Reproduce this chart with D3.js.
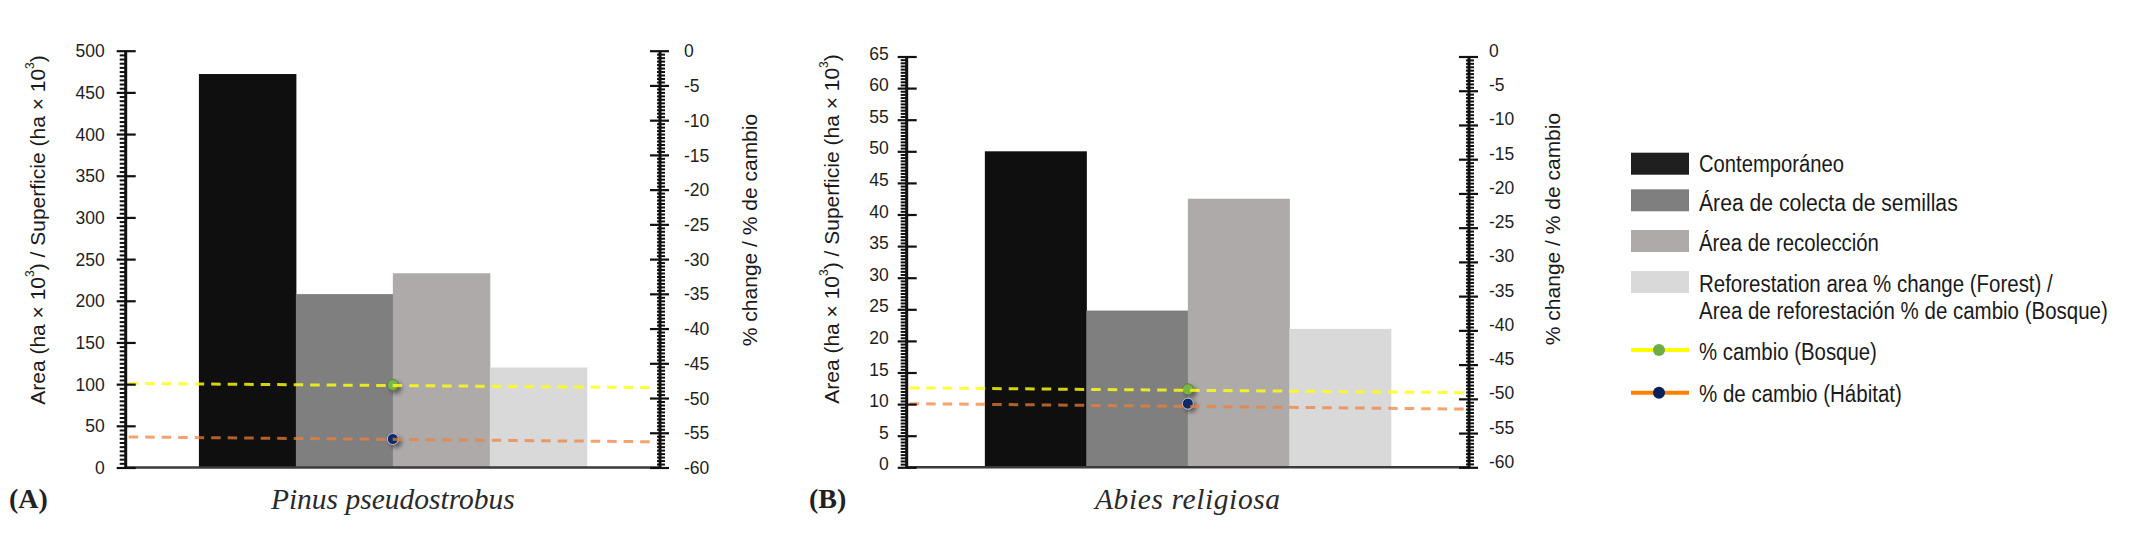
<!DOCTYPE html>
<html>
<head>
<meta charset="utf-8">
<script src="https://cdn.jsdelivr.net/npm/d3@7"></script>
<style>
  body { margin: 0; background: #fff; }
  svg { display: block; }
</style>
</head>
<body>
<div id="chart"></div>
<script>
// categories (bars) and legend labels
var categories = ["Contemporáneo", "Área de colecta de semillas", "Área de recolección", "Reforestación"]
var legendLabels = ["Contemporáneo", "Área de colecta de semillas", "Área de recolección",
  ["Reforestation area % change (Forest) /", "Area de reforestación % de cambio (Bosque)"],
  "% cambio (Bosque)", "% de cambio (Hábitat)"]

var speciesNames = ["Pinus pseudostrobus", "Abies religiosa"]
var panelLetters = ["(A)", "(B)"]

// area (ha x 10^3) per category
var pinusArea = [472, 208, 233, 120]
var abiesArea = [50, 24.8, 42.5, 21.9]

// % change markers (right axis)
var bosqueChange = [-48.1, -48.6]
var habitatChange = [-55.9, -50.7]
// dashed reference lines: value at left edge, value at right edge
var bosqueLine = [[-47.9, -48.5], [-48.4, -49.1]]
var habitatLine = [[-55.6, -56.3], [-50.7, -51.5]]

// tick labels
var areaTicksA = [0, 50, 100, 150, 200, 250, 300, 350, 400, 450, 500]
var areaTicksB = [0, 5, 10, 15, 20, 25, 30, 35, 40, 45, 50, 55, 60, 65]
var pctTicks = [0, -5, -10, -15, -20, -25, -30, -35, -40, -45, -50, -55, -60]

var barColors = ["#0f0f0f", "#7f7f7f", "#aeaaa9", "#d9d9d9"]

var width = 2144, height = 545
var svg = d3.select("#chart").append("svg")
  .attr("width", width)
  .attr("height", height)

var defs = svg.append("defs")
defs.append("filter").attr("id", "dotShadow")
  .attr("x", "-50%").attr("y", "-50%").attr("width", "250%").attr("height", "250%")
  .append("feDropShadow")
  .attr("dx", 3).attr("dy", 3).attr("stdDeviation", 2)
  .attr("flood-color", "#000").attr("flood-opacity", 0.45)

function minorTicks(major) {
  // ten subdivisions between major ticks
  var out = []
  for (var i = 0; i < major.length - 1; i++) {
    var a = major[i], b = major[i + 1]
    for (var k = 1; k < 10; k++) out.push(a + (b - a) * k / 10)
  }
  return out
}

var plain = d => String(d)   // keep the ascii hyphen for negatives

function drawPanel(p) {
  var g = svg.append("g")

  var yArea = d3.scaleLinear().domain([0, d3.max(p.areaTicks)]).range([p.bottom, p.top])
  var yPct = d3.scaleLinear().domain([-60, 0]).range([p.bottom, p.top])
  var x = d3.scaleBand().domain(categories).range([p.left, p.right])
    .paddingInner(0).paddingOuter(p.outer)

  // bars
  g.selectAll(".bar").data(p.area).enter().append("rect")
    .attr("x", (d, i) => x(categories[i]))
    .attr("width", x.bandwidth() + 0.5)
    .attr("y", d => yArea(d))
    .attr("height", d => p.bottom - yArea(d))
    .attr("fill", (d, i) => barColors[i])

  // bottom baseline
  g.append("line")
    .attr("x1", p.left).attr("x2", p.right)
    .attr("y1", p.bottom).attr("y2", p.bottom)
    .attr("stroke", "#3a3a3a").attr("stroke-width", 2.5)

  // markers (drawn under the dashed lines)
  var cx = x(categories[2])
  g.append("circle").attr("cx", cx).attr("cy", yPct(p.bosque)).attr("r", 5.5)
    .attr("fill", "#79b446").attr("stroke", "#5d7a45").attr("stroke-width", 1)
    .attr("filter", "url(#dotShadow)")
  g.append("circle").attr("cx", cx).attr("cy", yPct(p.habitat)).attr("r", 5.5)
    .attr("fill", "#0d2a6b").attr("stroke", "#b8bcc8").attr("stroke-width", 1)
    .attr("filter", "url(#dotShadow)")

  // dashed lines
  var line = d3.line().x(d => d[0]).y(d => yPct(d[1]))
  g.append("path")
    .attr("d", line([[p.left + 3, p.bosqueLine[0]], [p.right - 3, p.bosqueLine[1]]]))
    .attr("fill", "none").attr("stroke", "#ffff10").attr("stroke-width", 3)
    .attr("stroke-dasharray", "9.5,7").attr("opacity", 0.82)
  g.append("path")
    .attr("d", line([[p.left + 3, p.habitatLine[0]], [p.right - 3, p.habitatLine[1]]]))
    .attr("fill", "none").attr("stroke", "#f08038").attr("stroke-width", 3)
    .attr("stroke-dasharray", "9.5,7").attr("opacity", 0.72)

  // left axis
  var left = g.append("g").attr("transform", `translate(${p.left},0)`)
  left.append("g").call(d3.axisLeft(yArea).tickValues(minorTicks(p.areaTicks)).tickSize(6).tickFormat(""))
    .call(s => s.select(".domain").remove())
    .call(s => s.selectAll("text").remove())
    .selectAll("line").attr("stroke", "#111").attr("stroke-width", 2)
  var lMaj = left.append("g").call(d3.axisLeft(yArea).tickValues(p.areaTicks).tickSize(9).tickFormat(plain))
  lMaj.select(".domain").remove()
  lMaj.selectAll(".tick line").attr("x1", -9).attr("x2", 10).attr("stroke", "#111").attr("stroke-width", 2.2)
  lMaj.selectAll(".tick text").attr("x", -p.leftGap).attr("dy", p.leftDy)
    .style("font-family", "'Liberation Sans', Arial, sans-serif").style("font-size", "17.5px").attr("fill", "#1e1e1e")
  left.append("line").attr("y1", p.top).attr("y2", p.bottom + 1).attr("stroke", "#111").attr("stroke-width", 3)

  // right axis
  var right = g.append("g").attr("transform", `translate(${p.right},0)`)
  right.append("g").call(d3.axisRight(yPct).tickValues(minorTicks(pctTicks.slice().reverse())).tickSize(5).tickFormat(""))
    .call(s => s.select(".domain").remove())
    .call(s => s.selectAll("text").remove())
    .selectAll("line").attr("x1", -3).attr("stroke", "#111").attr("stroke-width", 2)
  var rMaj = right.append("g").call(d3.axisRight(yPct).tickValues(pctTicks).tickSize(9).tickFormat(plain))
  rMaj.select(".domain").remove()
  rMaj.selectAll(".tick line").attr("x1", -10).attr("x2", 9).attr("stroke", "#111").attr("stroke-width", 2.2)
  rMaj.selectAll(".tick text").attr("x", p.rightGap).attr("dy", p.rightDy)
    .style("font-family", "'Liberation Sans', Arial, sans-serif").style("font-size", "17.5px").attr("fill", "#1e1e1e")
  right.append("line").attr("y1", p.top).attr("y2", p.bottom + 1).attr("stroke", "#111").attr("stroke-width", 3)

  // axis titles
  var lt = g.append("text")
    .attr("transform", `translate(${p.leftTitleX},${p.titleY}) rotate(-90)`)
    .attr("text-anchor", "middle").attr("dominant-baseline", "central")
    .style("font-family", "'Liberation Sans', Arial, sans-serif").style("font-size", "21px").attr("fill", "#1a1a1a")
  lt.append("tspan").text("Area (ha × 10")
  lt.append("tspan").attr("dy", -7).style("font-size", "12px").text("3")
  lt.append("tspan").attr("dy", 7).text(") / Superficie (ha × 10")
  lt.append("tspan").attr("dy", -7).style("font-size", "12px").text("3")
  lt.append("tspan").attr("dy", 7).text(")")

  g.append("text")
    .attr("transform", `translate(${p.rightTitleX},${p.titleY}) rotate(-90)`)
    .attr("text-anchor", "middle").attr("dominant-baseline", "central")
    .style("font-family", "'Liberation Sans', Arial, sans-serif").style("font-size", "21px").attr("fill", "#1a1a1a")
    .text("% change / % de cambio")

  // species name and panel letter
  g.append("text")
    .attr("x", (p.left + p.right) / 2).attr("y", 509)
    .attr("text-anchor", "middle")
    .style("font-family", "'Liberation Serif', 'Times New Roman', serif").style("font-style", "italic")
    .style("font-size", "29.5px").style("letter-spacing", p.nameSpacing).attr("fill", "#2a2a2a")
    .text(p.species)
  g.append("text")
    .attr("x", p.letterX).attr("y", 508)
    .style("font-family", "'Liberation Serif', 'Times New Roman', serif").style("font-weight", "bold")
    .style("font-size", "28px").attr("fill", "#222")
    .text(p.letter)
}

drawPanel({
  left: 125.7, right: 660, top: 50.7, bottom: 467.5, outer: 0.755,
  area: pinusArea, areaTicks: areaTicksA,
  bosque: bosqueChange[0], habitat: habitatChange[0],
  bosqueLine: bosqueLine[0], habitatLine: habitatLine[0],
  leftGap: 21, rightGap: 24, leftDy: "0.35em", rightDy: "0.35em",
  leftTitleX: 36.5, rightTitleX: 749.5, titleY: 230,
  species: speciesNames[0], letter: panelLetters[0], letterX: 9, nameSpacing: "0px"
})

drawPanel({
  left: 906.7, right: 1469, top: 56.5, bottom: 467.3, outer: 0.77,
  area: abiesArea, areaTicks: areaTicksB,
  bosque: bosqueChange[1], habitat: habitatChange[1],
  bosqueLine: bosqueLine[1], habitatLine: habitatLine[1],
  leftGap: 18, rightGap: 20, leftDy: "0.15em", rightDy: "0.0em",
  leftTitleX: 831, rightTitleX: 1552, titleY: 229,
  species: speciesNames[1], letter: panelLetters[1], letterX: 809, nameSpacing: "0.6px"
})

// legend
var legend = svg.append("g")
var swatchY = [152.7, 189.3, 230, 271]
var textY = [171.7, 210.7, 251, 292.3]
for (var i = 0; i < 4; i++) {
  legend.append("rect")
    .attr("x", 1631).attr("y", swatchY[i]).attr("width", 58).attr("height", 22)
    .attr("fill", i == 0 ? "#1f1f1f" : barColors[i])
}
// condensed look: scale each label horizontally to the width it has in the picture
function legendText(label, y, len) {
  var holder = legend.append("g")
  var t = holder.append("text")
    .attr("x", 0).attr("y", 0)
    .style("font-family", "'Liberation Sans', Arial, sans-serif").style("font-size", "24.5px").attr("fill", "#1a1a1a")
    .text(label)
  var natural = t.node().getComputedTextLength() || len
  holder.attr("transform", `translate(1699,${y}) scale(${len / natural},1)`)
}
legendText(legendLabels[0], textY[0], 145)
legendText(legendLabels[1], textY[1], 259)
legendText(legendLabels[2], textY[2], 180)
legendText(legendLabels[3][0], textY[3], 354)
legendText(legendLabels[3][1], 319, 409)

var lineLegend = [
  {y: 350, ty: 360, len: 178, stroke: "#ffff00", fill: "#6fac46", label: legendLabels[4]},
  {y: 392.7, ty: 401.7, len: 203, stroke: "#ff8000", fill: "#0b1f5b", label: legendLabels[5]}
]
lineLegend.forEach(function(d) {
  legend.append("line").attr("x1", 1631).attr("x2", 1689).attr("y1", d.y).attr("y2", d.y)
    .attr("stroke", d.stroke).attr("stroke-width", 4)
  legend.append("circle").attr("cx", 1659).attr("cy", d.y).attr("r", 6).attr("fill", d.fill)
  legendText(d.label, d.ty, d.len)
})
</script>
</body>
</html>
